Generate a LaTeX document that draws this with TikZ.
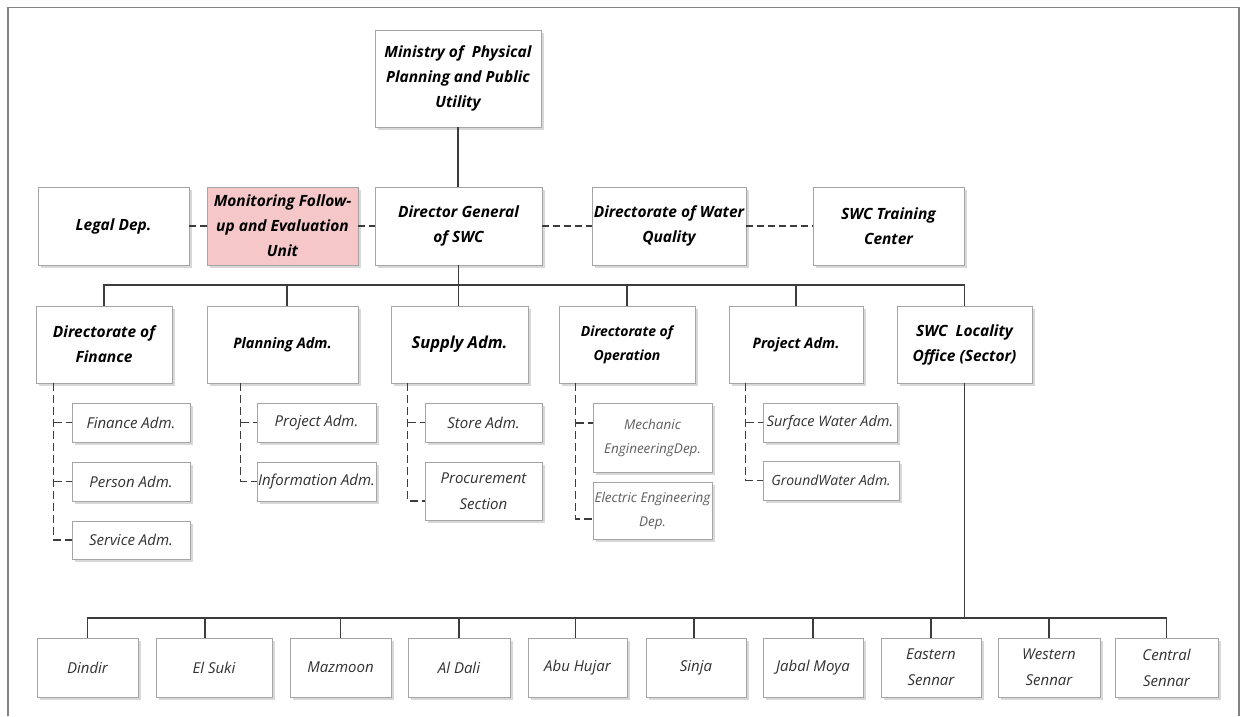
\documentclass[tikz,border=0pt]{standalone}
\usepackage{fontspec}
\setmainfont{Open Sans}
\usetikzlibrary{shadows}
\definecolor{pinkfill}{RGB}{245,199,201}
\definecolor{linec}{RGB}{60,60,60}
\definecolor{boxc}{RGB}{165,165,165}
\definecolor{subtext}{RGB}{50,50,50}
\definecolor{lighttext}{RGB}{95,95,95}
\definecolor{framec}{RGB}{130,130,130}
\begin{document}
\begin{tikzpicture}[x=1pt,y=-1pt,
  box/.style={draw=boxc, line width=0.9pt, fill=white, align=center, inner sep=1pt,
    drop shadow={shadow xshift=2.5pt, shadow yshift=-2.5pt, opacity=0.3}},
  wh/.style 2 args={minimum width=#1pt, minimum height=#2pt},
  headbox/.style={box, font=\fontsize{15.5}{25}\selectfont\bfseries\itshape, text=black},
  subbox/.style={box, font=\fontsize{15}{26}\selectfont\itshape, text=subtext},
  lightbox/.style={box, font=\fontsize{13.5}{24}\selectfont\itshape, text=lighttext},
  conn/.style={draw=linec, line width=1.4pt},
  dconn/.style={draw=linec, line width=1.2pt, dash pattern=on 7pt off 4pt},
  sconn/.style={draw=linec, line width=1.1pt, dash pattern=on 8pt off 4pt}
]
\useasboundingbox (0,0) rectangle (1241,716);
\fill[white] (0,0) rectangle (1241,716);
% frame
\draw[framec, line width=1.5pt] (8,716) -- (8,7.5) -- (1239,7.5) -- (1239,716);

% top
\node[headbox, wh={166}{97}] (min) at (458,78.5) {Ministry of~~Physical\\Planning and Public\\Utility};

% row 1
\node[headbox, wh={151}{78}] (legal) at (113.5,226) {Legal Dep.};
\node[headbox, wh={151}{78}, fill=pinkfill] (monitor) at (282.5,226) {Monitoring Follow-\\up and Evaluation\\Unit};
\node[headbox, wh={167}{78}] (dg) at (458.5,226) {Director General\\of SWC};
\node[headbox, wh={154}{78}] (dwq) at (669,226) {Directorate of Water\\Quality};
\node[headbox, wh={151}{78}] (train) at (888.5,226) {SWC Training\\Center};

% row 2
\node[headbox, wh={136}{77}] (fin) at (104,344.5) {Directorate of\\Finance};
\node[headbox, wh={151}{77}, font=\fontsize{14.5}{24}\selectfont\bfseries\itshape] (plan) at (282.5,344.5) {Planning Adm.};
\node[headbox, wh={137}{77}, font=\fontsize{16.5}{24}\selectfont\bfseries\itshape] (supply) at (459.5,344.5) {Supply Adm.};
\node[headbox, wh={136}{77}, font=\fontsize{14}{24}\selectfont\bfseries\itshape] (oper) at (627,344.5) {Directorate of\\Operation};
\node[headbox, wh={134}{77}, font=\fontsize{14.5}{24}\selectfont\bfseries\itshape] (proj) at (796,344.5) {Project Adm.};
\node[headbox, wh={135}{77}] (loc) at (964.5,344.5) {SWC~~Locality\\Office (Sector)};

% sub boxes
\node[subbox, wh={118}{39}] (finA) at (131,422.5) {Finance Adm.};
\node[subbox, wh={118}{39}] (perA) at (131,481.5) {Person Adm.};
\node[subbox, wh={118}{38}] (serA) at (131,540) {Service Adm.};
\node[subbox, wh={119}{39}] (projA) at (316.5,422.5) {Project Adm.};
\node[subbox, wh={119}{39}] (infoA) at (316.5,481.5) {Information Adm.};
\node[subbox, wh={117}{39}] (store) at (483.5,422.5) {Store Adm.};
\node[subbox, wh={117}{58}] (procure) at (483.5,491) {Procurement\\Section};
\node[lightbox, wh={119}{69}] (mech) at (652.5,437.5) {Mechanic\\EngineeringDep.};
\node[lightbox, wh={119}{57}] (elec) at (652.5,510.5) {Electric Engineering\\Dep.};
\node[subbox, wh={134}{39}, font=\fontsize{14.5}{24}\selectfont\itshape] (surf) at (830,422.5) {Surface Water Adm.};
\node[subbox, wh={136}{39}, font=\fontsize{14}{24}\selectfont\itshape] (ground) at (831,480.5) {GroundWater Adm.};

% bottom row
\node[subbox, wh={101}{59}] (dindir) at (87.5,667.5) {Dindir};
\node[subbox, wh={116}{59}] (elsuki) at (214,667.5) {El Suki};
\node[subbox, wh={101}{59}] (mazmoon) at (340.5,667.5) {Mazmoon};
\node[subbox, wh={102}{59}] (aldali) at (459,667.5) {Al Dali};
\node[subbox, wh={99}{59}] (abuhujar) at (577.5,667.5) {Abu Hujar};
\node[subbox, wh={100}{59}] (sinja) at (696,667.5) {Sinja};
\node[subbox, wh={100}{59}] (jabal) at (813,667.5) {Jabal Moya};
\node[subbox, wh={100}{59}] (eastern) at (931,667.5) {Eastern\\Sennar};
\node[subbox, wh={102}{59}] (western) at (1049,667.5) {Western\\Sennar};
\node[subbox, wh={103}{59}] (central) at (1166.5,667.5) {Central\\Sennar};

% solid connectors top
\draw[conn] (min.south) -- (min.south |- dg.north);
\coordinate (busA) at (0,285);
\draw[conn] (fin.north) |- (loc.north |- busA) -- (loc.north);
\draw[conn] (dg.south) -- (dg.south |- supply.north);
\draw[conn] ([xshift=4.5pt]plan.north) -- ([xshift=4.5pt]plan.north |- busA);
\draw[conn] (oper.north) -- (oper.north |- busA);
\draw[conn] (proj.north) -- (proj.north |- busA);

% dashed row 1
\draw[dconn] (legal.east) -- (monitor.west);
\draw[dconn] (monitor.east) -- (dg.west);
\draw[dconn] (dg.east) -- (dwq.west);
\draw[dconn] (dwq.east) -- (train.west);

% dashed sub connectors
\coordinate (fs) at ([xshift=18pt]fin.south west);
\draw[sconn] (fs) |- (serA.west);
\draw[sconn] (fs |- finA.west) -- (finA.west);
\draw[sconn] (fs |- perA.west) -- (perA.west);

\coordinate (ps) at ([xshift=34pt]plan.south west);
\draw[sconn] (ps) |- (infoA.west);
\draw[sconn] (ps |- projA.west) -- (projA.west);

\coordinate (ss) at ([xshift=17pt]supply.south west);
\draw[sconn] (ss) |- ([yshift=-10pt]procure.west);
\draw[sconn] (ss |- store.west) -- (store.west);

\coordinate (os) at ([xshift=17pt]oper.south west);
\draw[sconn] (os) |- ([yshift=-8.5pt]elec.west);
\coordinate (mt) at ([yshift=14.5pt]mech.west);
\draw[sconn] (os |- mt) -- (mt);

\coordinate (js) at ([xshift=17pt]proj.south west);
\draw[sconn] (js) |- (ground.west);
\draw[sconn] (js |- surf.west) -- (surf.west);

% bottom bus
\coordinate (busB) at (0,618);
\draw[conn] (loc.south) -- (loc.south |- busB);
\draw[conn] (dindir.north) |- (central.north |- busB) -- (central.north);
\draw[conn] ([xshift=-9pt]elsuki.north) -- ([xshift=-9pt]elsuki.north |- busB);
\draw[conn] (mazmoon.north) -- (mazmoon.north |- busB);
\draw[conn] (aldali.north) -- (aldali.north |- busB);
\draw[conn] ([xshift=-2pt]abuhujar.north) -- ([xshift=-2pt]abuhujar.north |- busB);
\draw[conn] ([xshift=-2pt]sinja.north) -- ([xshift=-2pt]sinja.north |- busB);
\draw[conn] (jabal.north) -- (jabal.north |- busB);
\draw[conn] (eastern.north) -- (eastern.north |- busB);
\draw[conn] (western.north) -- (western.north |- busB);
\end{tikzpicture}
\end{document}
